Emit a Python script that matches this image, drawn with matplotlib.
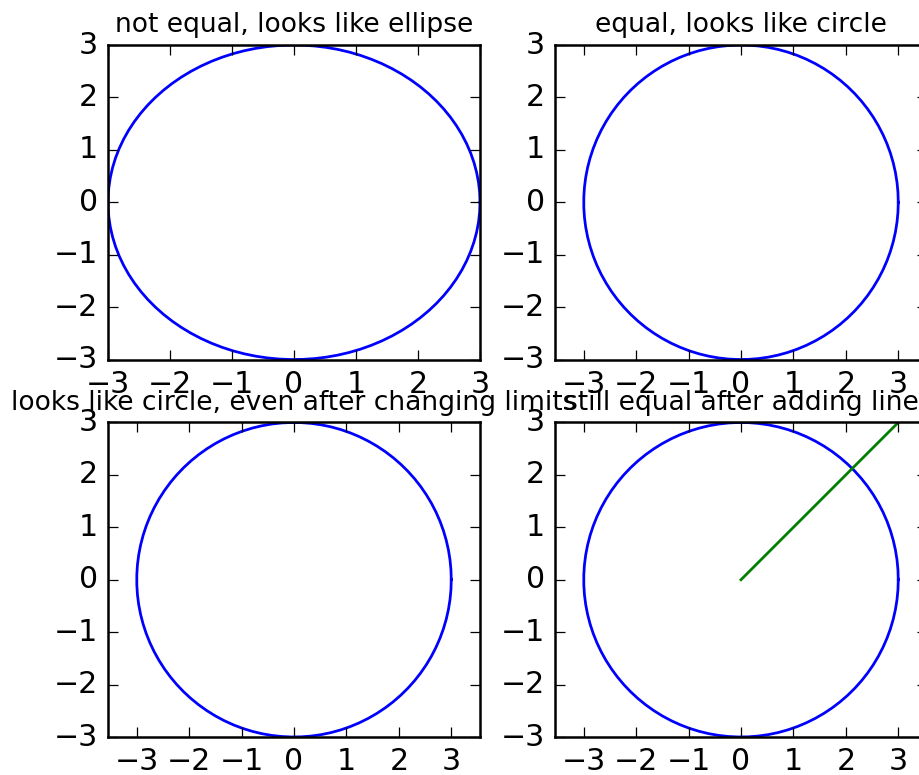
import numpy as np
import matplotlib
matplotlib.use("Agg")
import matplotlib.pyplot as plt

plt.style.use('classic')

# circle of radius 3
radius = 3
n_points = 100
an = np.linspace(0, 2 * np.pi, n_points)

# extra line in the last panel
line_x = [0, 4]
line_y = [0, 4]

titles = ['not equal, looks like ellipse',
          'equal, looks like circle',
          'looks like circle, even after changing limits',
          'still equal after adding line']

dpi = 180
fig, axs = plt.subplots(2, 2, figsize=(920 / dpi, 775 / dpi), dpi=dpi)
fig.patch.set_facecolor('white')
fig.subplots_adjust(left=108 / 920, right=927 / 920, top=1 - 45 / 775,
                    bottom=1 - 737 / 775, wspace=0.2016, hspace=0.2)

cx = radius * np.cos(an)
cy = radius * np.sin(an)
title_size = 10.6

ax = axs[0, 0]
ax.plot(cx, cy, lw=1.1)
ax.set_title(titles[0], fontsize=title_size)

ax = axs[0, 1]
ax.plot(cx, cy, lw=1.1)
ax.axis('equal')
ax.set_title(titles[1], fontsize=title_size)

ax = axs[1, 0]
ax.plot(cx, cy, lw=1.1)
ax.axis('equal')
ax.axis([-3, 3, -3, 3])
ax.set_title(titles[2], fontsize=title_size)

ax = axs[1, 1]
ax.plot(cx, cy, lw=1.1)
ax.axis('equal')
ax.axis([-3, 3, -3, 3])
ax.plot(line_x, line_y, lw=1.1)
ax.set_title(titles[3], fontsize=title_size)

fig.savefig('out.png', dpi=dpi, facecolor='white')
